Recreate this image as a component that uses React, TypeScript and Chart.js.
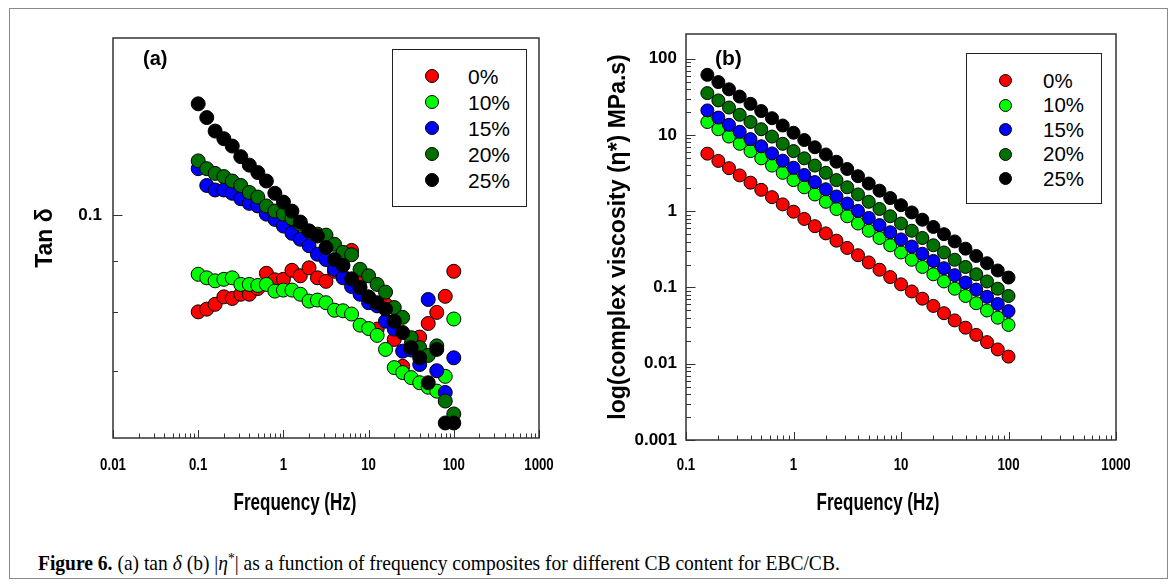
import React, { useEffect, useRef } from 'react';
import { Chart, registerables } from 'chart.js';

Chart.register(...registerables);

// ---------- data ----------
const seriesLabels = ['0%', '10%', '15%', '20%', '25%'];
const seriesColors = ['#ff0000', '#00ff00', '#0000ff', '#007000', '#000000'];

// (a) tan delta vs frequency
const freqA = [0.1, 0.126, 0.158, 0.2, 0.251, 0.316, 0.398, 0.501, 0.631, 0.794, 1, 1.26, 1.58, 2, 2.51, 3.16, 3.98, 5.01, 6.31, 7.94, 10, 12.6, 15.8, 20, 25.1, 31.6, 39.8, 50.1, 63.1, 79.4, 100];
const tanDelta0 = [0.0801, 0.0806, 0.0815, 0.0829, 0.0826, 0.0834, 0.0834, 0.0845, 0.0875, 0.0862, 0.0863, 0.0881, 0.087, 0.0886, 0.0866, 0.0859, 0.0879, 0.0869, 0.0922, 0.0861, 0.0828, 0.077, 0.0815, 0.0752, 0.0707, 0.0744, 0.0756, 0.078, 0.08, 0.083, 0.0879];
const tanDelta10 = [0.0873, 0.0866, 0.086, 0.0863, 0.0866, 0.0853, 0.0853, 0.0851, 0.0853, 0.084, 0.0842, 0.0842, 0.0834, 0.0821, 0.0823, 0.0818, 0.0804, 0.0803, 0.0797, 0.0777, 0.0771, 0.0759, 0.0735, 0.0705, 0.0697, 0.0689, 0.0681, 0.0674, 0.0668, 0.0691, 0.0788];
const tanDelta15 = [0.1112, 0.107, 0.1059, 0.1059, 0.1051, 0.1038, 0.1027, 0.1021, 0.1002, 0.099, 0.0975, 0.0959, 0.0946, 0.0932, 0.0914, 0.0903, 0.0883, 0.0866, 0.0849, 0.0834, 0.0818, 0.0812, 0.0784, 0.077, 0.0732, 0.0734, 0.071, 0.0824, 0.07, 0.0666, 0.0721];
const tanDelta20 = [0.1132, 0.1112, 0.11, 0.1092, 0.1081, 0.107, 0.1053, 0.1042, 0.1021, 0.1009, 0.1002, 0.0992, 0.0979, 0.0964, 0.0957, 0.0955, 0.0935, 0.0918, 0.0913, 0.0883, 0.087, 0.0853, 0.0838, 0.0809, 0.0791, 0.0755, 0.0738, 0.0725, 0.0741, 0.0653, 0.0634];
const tanDelta25 = [0.129, 0.125, 0.1212, 0.1191, 0.1171, 0.1143, 0.1121, 0.1102, 0.1081, 0.1051, 0.103, 0.1009, 0.0984, 0.0964, 0.0953, 0.0928, 0.0903, 0.0891, 0.0864, 0.0847, 0.0829, 0.0818, 0.0806, 0.0784, 0.0764, 0.0738, 0.0721, 0.0681, 0.0735, 0.0621, 0.0621];

// (b) complex viscosity vs frequency
const freqB = [0.158, 0.2, 0.251, 0.316, 0.398, 0.501, 0.631, 0.794, 1, 1.26, 1.58, 2, 2.51, 3.16, 3.98, 5.01, 6.31, 7.94, 10, 12.6, 15.8, 20, 25.1, 31.6, 39.8, 50.1, 63.1, 79.4, 100];
const eta0 = [5.69, 4.57, 3.67, 2.95, 2.37, 1.91, 1.53, 1.23, 0.986, 0.793, 0.637, 0.512, 0.411, 0.33, 0.265, 0.213, 0.171, 0.137, 0.11, 0.0887, 0.0713, 0.0573, 0.046, 0.037, 0.0297, 0.0239, 0.0192, 0.0154, 0.0124];
const eta10 = [14.8, 11.9, 9.53, 7.66, 6.15, 4.94, 3.97, 3.19, 2.56, 2.06, 1.66, 1.33, 1.07, 0.859, 0.69, 0.555, 0.446, 0.358, 0.288, 0.231, 0.186, 0.149, 0.12, 0.0964, 0.0774, 0.0622, 0.05, 0.0402, 0.0323];
const eta15 = [21.0, 16.9, 13.6, 11.0, 8.83, 7.11, 5.73, 4.61, 3.72, 2.99, 2.41, 1.94, 1.56, 1.26, 1.01, 0.817, 0.658, 0.53, 0.427, 0.344, 0.277, 0.223, 0.179, 0.145, 0.116, 0.0938, 0.0755, 0.0608, 0.049];
const eta20 = [35.4, 28.4, 22.9, 18.4, 14.8, 11.9, 9.53, 7.66, 6.15, 4.94, 3.97, 3.19, 2.56, 2.06, 1.66, 1.33, 1.07, 0.859, 0.69, 0.555, 0.446, 0.358, 0.288, 0.231, 0.186, 0.149, 0.12, 0.0964, 0.0774];
const eta25 = [61.5, 49.4, 39.7, 31.9, 25.6, 20.6, 16.6, 13.3, 10.7, 8.59, 6.9, 5.55, 4.46, 3.58, 2.88, 2.31, 1.86, 1.49, 1.2, 0.964, 0.774, 0.622, 0.5, 0.402, 0.323, 0.259, 0.208, 0.167, 0.135];

// tick labels
const xTicksA = [0.01, 0.1, 1, 10, 100, 1000];
const xLabelsA = ['0.01', '0.1', '1', '10', '100', '1000'];
const yTicksA = [0.1];
const yLabelsA = ['0.1'];
const xTicksB = [0.1, 1, 10, 100, 1000];
const xLabelsB = ['0.1', '1', '10', '100', '1000'];
const yTicksB = [0.001, 0.01, 0.1, 1, 10, 100];
const yLabelsB = ['0.001', '0.01', '0.1', '1', '10', '100'];
const xTitle = 'Frequency (Hz)';

const seriesA = [tanDelta0, tanDelta10, tanDelta15, tanDelta20, tanDelta25];
const seriesB = [eta0, eta10, eta15, eta20, eta25];

// ---------- helpers ----------
const SANS = "'Liberation Sans', Arial, Helvetica, sans-serif";

function minorTicks(majors: number[], min: number, max: number) {
  const out: number[] = [];
  const lo = Math.floor(Math.log10(min)) - 1;
  const hi = Math.ceil(Math.log10(max));
  for (let e = lo; e <= hi; e++) {
    for (let m = 2; m <= 9; m++) {
      const v = m * Math.pow(10, e);
      if (v > min * 1.0001 && v < max * 0.9999 && v < majors[majors.length - 1]) out.push(v);
    }
  }
  return out;
}

// draws the frame, inward tick marks, and the (condensed) x tick labels / x title
const frameTicksPlugin = {
  id: 'frameTicks',
  afterDraw(chart: any, _args: any, opts: any) {
    const { ctx, chartArea: a } = chart;
    const xs = chart.scales.x;
    const ys = chart.scales.y;
    ctx.save();
    ctx.strokeStyle = '#333';
    ctx.lineWidth = 1;
    const line = (x1: number, y1: number, x2: number, y2: number) => {
      ctx.beginPath();
      ctx.moveTo(x1, y1);
      ctx.lineTo(x2, y2);
      ctx.stroke();
    };
    (opts.xMinor || []).forEach((v: number) => {
      const p = Math.round(xs.getPixelForValue(v)) + 0.5;
      line(p, a.bottom, p, a.bottom - 4.5);
    });
    (opts.xMajor || []).forEach((v: number) => {
      const p = Math.round(xs.getPixelForValue(v)) + 0.5;
      line(p, a.bottom, p, a.bottom - 8);
    });
    (opts.yMinor || []).forEach((v: number) => {
      const p = Math.round(ys.getPixelForValue(v)) + 0.5;
      line(a.left, p, a.left + 5, p);
    });
    (opts.yMajor || []).forEach((v: number) => {
      const p = Math.round(ys.getPixelForValue(v)) + 0.5;
      line(a.left, p, a.left + 9.5, p);
    });
    ctx.lineWidth = 1.5;
    ctx.strokeRect(a.left, a.top, a.right - a.left, a.bottom - a.top);

    // condensed x tick labels
    ctx.fillStyle = '#000';
    ctx.textAlign = 'center';
    ctx.textBaseline = 'middle';
    ctx.font = `bold 17px ${SANS}`;
    (opts.xMajor || []).forEach((v: number, i: number) => {
      const p = xs.getPixelForValue(v);
      ctx.save();
      ctx.translate(p, a.bottom + opts.xLabelDy);
      ctx.scale(0.78, 1);
      ctx.fillText(opts.xLabels[i], 0, 0);
      ctx.restore();
    });
    // condensed x title
    ctx.font = `bold 23px ${SANS}`;
    ctx.save();
    ctx.translate((a.left + a.right) / 2 + opts.titleDx, a.bottom + opts.titleDy);
    ctx.scale(0.74, 1);
    ctx.fillText(opts.title, 0, 0);
    ctx.restore();
    ctx.restore();
  },
};

type PanelCfg = {
  xs: number[];
  ys: number[][];
  radius: number;
  xMin: number; xMax: number; yMin: number; yMax: number;
  xTicks: number[]; xLabels: string[];
  yTicks: number[]; yLabels: string[];
  yTitle: string;
  padding: { top: number; right: number; left: number; bottom: number };
  yWidth: number; xHeight: number;
  yTitlePad: number; yTickPad: number;
  xLabelDy: number; titleDx: number; titleDy: number;
};

function buildConfig(c: PanelCfg): any {
  const datasets = c.ys.map((vals, i) => ({
    label: seriesLabels[i],
    data: vals.map((v, k) => ({ x: c.xs[k], y: v })),
    pointRadius: c.radius,
    pointHoverRadius: c.radius,
    pointBackgroundColor: seriesColors[i],
    pointBorderColor: '#000',
    pointBorderWidth: 1,
    showLine: false,
    order: 5 - i,
  }));
  return {
    type: 'scatter',
    data: { datasets },
    plugins: [frameTicksPlugin],
    options: {
      animation: false,
      responsive: false,
      devicePixelRatio: 1,
      events: [],
      layout: { padding: c.padding },
      plugins: {
        legend: { display: false },
        tooltip: { enabled: false },
        frameTicks: {
          xMajor: c.xTicks,
          xLabels: c.xLabels,
          xMinor: minorTicks(c.xTicks, c.xMin, c.xMax),
          yMajor: c.yTicks,
          yMinor: minorTicks(c.yTicks, c.yMin, c.yMax),
          xLabelDy: c.xLabelDy,
          title: xTitle,
          titleDx: c.titleDx,
          titleDy: c.titleDy,
        },
      },
      scales: {
        x: {
          type: 'logarithmic',
          min: c.xMin,
          max: c.xMax,
          afterBuildTicks: (s: any) => { s.ticks = c.xTicks.map((v) => ({ value: v })); },
          afterFit: (s: any) => { s.height = c.xHeight; },
          grid: { display: false, drawTicks: false },
          border: { display: false },
          ticks: { display: false },
          title: { display: false },
        },
        y: {
          type: 'logarithmic',
          min: c.yMin,
          max: c.yMax,
          afterBuildTicks: (s: any) => { s.ticks = c.yTicks.map((v) => ({ value: v })); },
          afterFit: (s: any) => { s.width = c.yWidth; },
          grid: { display: false, drawTicks: false },
          border: { display: false },
          ticks: {
            autoSkip: false,
            padding: c.yTickPad,
            color: '#000',
            font: { family: SANS, size: 17, weight: 'bold' },
            callback: (_v: any, i: number) => c.yLabels[i],
          },
          title: {
            display: true,
            text: c.yTitle,
            color: '#000',
            font: { family: SANS, size: 23, weight: 'bold' },
            padding: { top: c.yTitlePad, bottom: 0 },
          },
        },
      },
    },
  };
}

function ChartPanel({ cfg, left, top, width, height }: { cfg: PanelCfg; left: number; top: number; width: number; height: number }) {
  const ref = useRef<HTMLCanvasElement | null>(null);
  useEffect(() => {
    if (!ref.current) return;
    const chart = new Chart(ref.current, buildConfig(cfg));
    return () => chart.destroy();
  }, []);
  return (
    <canvas
      ref={ref}
      width={width}
      height={height}
      style={{ position: 'absolute', left, top, width, height }}
    />
  );
}

const panelA: PanelCfg = {
  xs: freqA, ys: seriesA, radius: 7,
  xMin: 0.01, xMax: 1000, yMin: 0.06, yMax: 0.15,
  xTicks: xTicksA, xLabels: xLabelsA, yTicks: yTicksA, yLabels: yLabelsA,
  yTitle: 'Tan δ',
  padding: { top: 38, right: 51, left: 0, bottom: 0 },
  yWidth: 113, xHeight: 102,
  yTitlePad: 32, yTickPad: 11,
  xLabelDy: 27, titleDx: -31, titleDy: 66,
};

const panelB: PanelCfg = {
  xs: freqB, ys: seriesB, radius: 6.5,
  xMin: 0.1, xMax: 1000, yMin: 0.001, yMax: 211,
  xTicks: xTicksB, xLabels: xLabelsB, yTicks: yTicksB, yLabels: yLabelsB,
  yTitle: 'log(complex viscosity (η*) MPa.s)',
  padding: { top: 34, right: 55, left: 0, bottom: 0 },
  yWidth: 96, xHeight: 100,
  yTitlePad: 15, yTickPad: 9,
  xLabelDy: 25, titleDx: -23, titleDy: 64,
};

function Legend({ left, top, width, height, markerX, firstY, stepY, textX, fontSize, dot }: any) {
  return (
    <>
      <div style={{ position: 'absolute', left, top, width, height, border: '1px solid #222', boxSizing: 'border-box', background: '#fff' }} />
      {seriesLabels.map((lab, i) => (
        <React.Fragment key={lab}>
          <div style={{
            position: 'absolute', left: markerX - dot / 2, top: firstY + i * stepY - dot / 2,
            width: dot, height: dot, borderRadius: '50%', background: seriesColors[i],
            border: '1px solid #000', boxSizing: 'border-box',
          }} />
          <div style={{
            position: 'absolute', left: textX, top: firstY + i * stepY, transform: 'translateY(-50%)',
            fontFamily: SANS, fontSize, lineHeight: 1, color: '#000', whiteSpace: 'nowrap',
          }}>{lab}</div>
        </React.Fragment>
      ))}
    </>
  );
}

export default function App() {
  return (
    <div style={{ position: 'absolute', left: 0, top: 0, width: 1171, height: 587, background: '#fff', overflow: 'hidden' }}>
      <div style={{ position: 'absolute', left: 9, top: 8, width: 1159, height: 571, border: '1px solid #8a8a8a', boxSizing: 'border-box' }} />
      <ChartPanel cfg={panelA} left={0} top={0} width={590} height={540} />
      <ChartPanel cfg={panelB} left={590} top={0} width={581} height={540} />
      <div style={{ position: 'absolute', left: 143, top: 58, transform: 'translateY(-50%)', fontFamily: SANS, fontWeight: 'bold', fontSize: 20, lineHeight: 1 }}>(a)</div>
      <div style={{ position: 'absolute', left: 715, top: 57, transform: 'translateY(-50%)', fontFamily: SANS, fontWeight: 'bold', fontSize: 21, lineHeight: 1 }}>(b)</div>
      <Legend left={392} top={49} width={135} height={158} markerX={432} firstY={76} stepY={26} textX={468} fontSize={21} dot={14} />
      <Legend left={966} top={53} width={136} height={151} markerX={1005} firstY={80.5} stepY={24.5} textX={1043} fontSize={20.5} dot={13} />
      <div style={{
        position: 'absolute', left: 38, top: 563, transform: 'translateY(-50%) scaleX(0.93)', transformOrigin: 'left center',
        fontFamily: "'Liberation Serif', 'Times New Roman', serif", fontSize: 21, lineHeight: 1, color: '#000', whiteSpace: 'nowrap',
      }}>
        <b>Figure 6.</b> (a) tan <i>δ</i> (b) |<i>η</i><sup style={{ fontSize: '0.7em', verticalAlign: '0.45em', lineHeight: 0 }}>*</sup>| as a function of frequency composites for different CB content for EBC/CB.
      </div>
    </div>
  );
}
